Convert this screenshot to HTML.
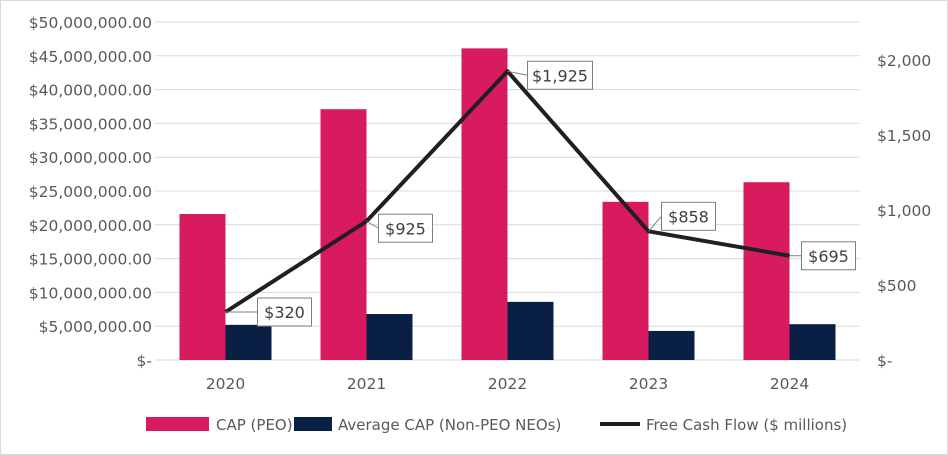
<!DOCTYPE html>
<html><head><meta charset="utf-8"><style>
body{margin:0;background:#fff;}
svg{display:block;font-family:"DejaVu Sans","Liberation Sans",sans-serif;}
</style></head><body>
<svg id="chart" width="948" height="455">
<rect x="0.5" y="0.5" width="947" height="454" fill="#fff" stroke="#d9d9d9"/>
<g id="grid"></g><g id="bars"></g><g id="line"></g><g id="labels"></g><g id="axes"></g>
<g id="legend">
<rect x="146" y="417" width="63" height="14" fill="#d81b5f"/>
<text x="216" y="430" font-size="15" fill="#595959">CAP (PEO)</text>
<rect x="294" y="417" width="38" height="14" fill="#0a1f44"/>
<text x="338" y="430" font-size="15" fill="#595959">Average CAP (Non-PEO NEOs)</text>
<line x1="600" y1="424" x2="640" y2="424" stroke="#231f20" stroke-width="4"/>
<text x="646" y="430" font-size="15" fill="#595959">Free Cash Flow ($ millions)</text>
</g>
</svg>
<script>
const categories=["2020","2021","2022","2023","2024"];
const capPeo=[21600000,37100000,46100000,23400000,26300000];
const avgCap=[5200000,6800000,8600000,4300000,5300000];
const fcf=[320,925,1925,858,695];
const fcfLabels=["$320","$925","$1,925","$858","$695"];
const leftTicks=[0,5e6,10e6,15e6,20e6,25e6,30e6,35e6,40e6,45e6,50e6];
const rightTicks=[0,500,1000,1500,2000];

const NS="http://www.w3.org/2000/svg";
const X0=155,X1=860,Y0=360,Y1=22;
const bw=(X1-X0)/categories.length;
const xc=i=>X0+bw*(i+0.5);
const yL=v=>Y0-(v/50e6)*(Y0-Y1);
const yR=v=>Y0-v*0.15;
function mk(tag,attrs,parent){const e=document.createElementNS(NS,tag);for(const k in attrs)e.setAttribute(k,attrs[k]);parent.appendChild(e);return e;}
const grid=document.getElementById('grid'),axes=document.getElementById('axes'),bars=document.getElementById('bars'),lineG=document.getElementById('line'),labels=document.getElementById('labels');
function fmtL(v){return v===0?"$-":"$"+v.toLocaleString('en-US',{minimumFractionDigits:2});}
leftTicks.forEach(v=>{
 const l=mk('line',{x1:X0,x2:X1,y1:yL(v),y2:yL(v),stroke:'#d9d9d9','stroke-width':1},grid);
 
 
 const t=mk('text',{x:152,y:yL(v)+6,'text-anchor':'end','font-size':15.5,fill:'#595959'},axes);
 t.textContent=fmtL(v);
 
 
});
rightTicks.forEach(v=>{
 const t=mk('text',{x:877,y:yR(v)+6,'font-size':15.5,fill:'#595959'},axes);
 t.textContent=v===0?"$-":"$"+v.toLocaleString('en-US');
 
 
});
categories.forEach((c,i)=>{
 const t=mk('text',{x:xc(i),y:389,'text-anchor':'middle','font-size':15.5,fill:'#595959'},axes);
 t.textContent=c;
 
 
 const b1=mk('rect',{x:xc(i)-46,y:yL(capPeo[i]),width:46,height:Y0-yL(capPeo[i]),fill:'#d81b5f'},bars);
 
 
 const b2=mk('rect',{x:xc(i),y:yL(avgCap[i]),width:46,height:Y0-yL(avgCap[i]),fill:'#0a1f44'},bars);
 
 
});
const pts=fcf.map((v,i)=>xc(i)+','+yR(v)).join(' ');
const pl=mk('polyline',{points:pts,fill:'none',stroke:'#231f20','stroke-width':4,'stroke-linejoin':'round'},lineG);


const dx=[32,12,20,13,12];
const dy=[0,7,4,-15,0];
fcf.forEach((v,i)=>{
 const px=xc(i),py=yR(v);
 const w=fcfLabels[i].length>4?65:54;
 const bx=px+dx[i],by=py+dy[i]-14;
 mk('line',{x1:px,y1:py,x2:bx,y2:py+dy[i],stroke:'#7f7f7f','stroke-width':1},labels);
 const r=mk('rect',{x:bx,y:by,width:w,height:28,fill:'#fff',stroke:'#7f7f7f','stroke-width':1},labels);
 
 
 const t=mk('text',{x:bx+w/2,y:by+20,'text-anchor':'middle','font-size':16,fill:'#404040'},labels);
 t.textContent=fcfLabels[i];
 
 
});
</script>
</body></html>
